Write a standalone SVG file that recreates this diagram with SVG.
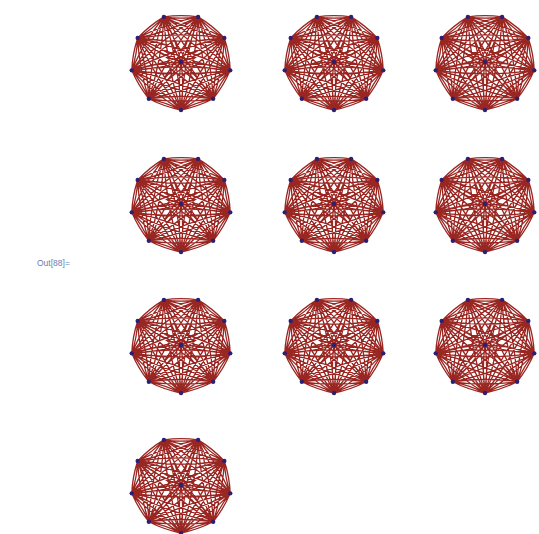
<svg xmlns="http://www.w3.org/2000/svg" xmlns:xlink="http://www.w3.org/1999/xlink" width="539" height="534" viewBox="0 0 539 534">
<style>
.e{fill:none;stroke:#9a2622;stroke-width:1.3;stroke-linecap:round}
.v{fill:#2e2070}
.lbl{font-family:"Liberation Sans",Arial,sans-serif;font-size:8.5px;fill:#6a7cb0}
</style>
<defs>
<g id="graph">
<path class="e" d="
M0,48Q16.86,44.64 32.14,36.77M0,48Q15.28,40.14 32.14,36.77
M0,48Q27.40,31.62 49.24,8.34M0,48Q21.84,24.72 49.24,8.34
M0,48Q26.69,15.03 43.3,-24M0,48Q16.61,8.97 43.3,-24
M0,48Q15.07,2.64 17.1,-45.11M0,48Q2.03,0.25 17.1,-45.11
M0,48Q-2.03,0.25 -17.1,-45.11M0,48Q-15.07,2.64 -17.1,-45.11
M0,48Q-16.61,8.97 -43.3,-24M0,48Q-26.69,15.03 -43.3,-24
M0,48Q-21.84,24.72 -49.24,8.34M0,48Q-27.40,31.62 -49.24,8.34
M0,48Q-15.28,40.14 -32.14,36.77M0,48Q-16.86,44.64 -32.14,36.77
M0,48Q3.36,24 0,0M0,48Q-3.36,24 0,0
M32.14,36.77Q42.68,23.75 49.24,8.34M32.14,36.77Q38.70,21.36 49.24,8.34
M32.14,36.77Q41.97,7.17 43.3,-24M32.14,36.77Q33.47,5.60 43.3,-24
M32.14,36.77Q30.35,-5.22 17.1,-45.11M32.14,36.77Q18.89,-3.12 17.1,-45.11
M32.14,36.77Q13.25,-7.62 -17.1,-45.11M32.14,36.77Q1.79,-0.72 -17.1,-45.11
M32.14,36.77Q-1.33,1.10 -43.3,-24M32.14,36.77Q-9.83,11.67 -43.3,-24
M32.14,36.77Q-6.56,16.86 -49.24,8.34M32.14,36.77Q-10.54,28.25 -49.24,8.34
M32.14,36.77Q0,32.27 -32.14,36.77M32.14,36.77Q0,41.27 -32.14,36.77
M32.14,36.77Q18.64,16.14 0,0M32.14,36.77Q13.50,20.64 0,0
M49.24,8.34Q48.53,-8.25 43.3,-24M49.24,8.34Q44.01,-7.41 43.3,-24
M49.24,8.34Q36.91,-20.64 17.1,-45.11M49.24,8.34Q29.43,-16.14 17.1,-45.11
M49.24,8.34Q19.81,-23.03 -17.1,-45.11M49.24,8.34Q12.33,-13.74 -17.1,-45.11
M49.24,8.34Q5.23,-14.31 -43.3,-24M49.24,8.34Q0.71,-1.35 -43.3,-24
M49.24,8.34Q0,1.45 -49.24,8.34M49.24,8.34Q0,15.23 -49.24,8.34
M49.24,8.34Q6.56,16.86 -32.14,36.77M49.24,8.34Q10.54,28.25 -32.14,36.77
M49.24,8.34Q25.20,0.72 0,0M49.24,8.34Q24.04,7.62 0,0
M43.3,-24Q31.68,-36.39 17.1,-45.11M43.3,-24Q28.72,-32.72 17.1,-45.11
M43.3,-24Q14.58,-38.78 -17.1,-45.11M43.3,-24Q11.62,-30.33 -17.1,-45.11
M43.3,-24Q0,-30.06 -43.3,-24M43.3,-24Q0,-17.94 -43.3,-24
M43.3,-24Q-5.23,-14.31 -49.24,8.34M43.3,-24Q-0.71,-1.35 -49.24,8.34
M43.3,-24Q1.33,1.10 -32.14,36.77M43.3,-24Q9.83,11.67 -32.14,36.77
M43.3,-24Q19.97,-15.03 0,0M43.3,-24Q23.33,-8.97 0,0
M17.1,-45.11Q0,-47.50 -17.1,-45.11M17.1,-45.11Q0,-42.72 -17.1,-45.11
M17.1,-45.11Q-14.58,-38.78 -43.3,-24M17.1,-45.11Q-11.62,-30.33 -43.3,-24
M17.1,-45.11Q-19.81,-23.03 -49.24,8.34M17.1,-45.11Q-12.33,-13.74 -49.24,8.34
M17.1,-45.11Q-13.25,-7.62 -32.14,36.77M17.1,-45.11Q-1.79,-0.72 -32.14,36.77
M17.1,-45.11Q5.39,-23.75 0,0M17.1,-45.11Q11.71,-21.36 0,0
M-17.1,-45.11Q-31.68,-36.39 -43.3,-24M-17.1,-45.11Q-28.72,-32.72 -43.3,-24
M-17.1,-45.11Q-36.91,-20.64 -49.24,8.34M-17.1,-45.11Q-29.43,-16.14 -49.24,8.34
M-17.1,-45.11Q-30.35,-5.22 -32.14,36.77M-17.1,-45.11Q-18.89,-3.12 -32.14,36.77
M-17.1,-45.11Q-11.71,-21.36 0,0M-17.1,-45.11Q-5.39,-23.75 0,0
M-43.3,-24Q-48.53,-8.25 -49.24,8.34M-43.3,-24Q-44.01,-7.41 -49.24,8.34
M-43.3,-24Q-41.97,7.17 -32.14,36.77M-43.3,-24Q-33.47,5.60 -32.14,36.77
M-43.3,-24Q-23.33,-8.97 0,0M-43.3,-24Q-19.97,-15.03 0,0
M-49.24,8.34Q-42.68,23.75 -32.14,36.77M-49.24,8.34Q-38.70,21.36 -32.14,36.77
M-49.24,8.34Q-24.04,7.62 0,0M-49.24,8.34Q-25.20,0.72 0,0
M-32.14,36.77Q-13.50,20.64 0,0M-32.14,36.77Q-18.64,16.14 0,0"/>
<g class="v">
<circle cx="0" cy="48" r="2.2"/>
<circle cx="32.14" cy="36.77" r="2.2"/>
<circle cx="49.24" cy="8.34" r="2.2"/>
<circle cx="43.3" cy="-24" r="2.2"/>
<circle cx="17.1" cy="-45.11" r="2.2"/>
<circle cx="-17.1" cy="-45.11" r="2.2"/>
<circle cx="-43.3" cy="-24" r="2.2"/>
<circle cx="-49.24" cy="8.34" r="2.2"/>
<circle cx="-32.14" cy="36.77" r="2.2"/>
<circle cx="0" cy="0" r="2.2"/>
</g>
</g>
</defs>
<rect width="539" height="534" fill="#ffffff"/>
<text class="lbl" x="37" y="266">Out[88]=</text>
<g id="graph1"><use xlink:href="#graph" href="#graph" transform="translate(181,62)"/></g>
<g id="graph2"><use xlink:href="#graph" href="#graph" transform="translate(334,62)"/></g>
<g id="graph3"><use xlink:href="#graph" href="#graph" transform="translate(485,62)"/></g>
<g id="graph4"><use xlink:href="#graph" href="#graph" transform="translate(181,204)"/></g>
<g id="graph5"><use xlink:href="#graph" href="#graph" transform="translate(334,204)"/></g>
<g id="graph6"><use xlink:href="#graph" href="#graph" transform="translate(485,204)"/></g>
<g id="graph7"><use xlink:href="#graph" href="#graph" transform="translate(181,345)"/></g>
<g id="graph8"><use xlink:href="#graph" href="#graph" transform="translate(334,345)"/></g>
<g id="graph9"><use xlink:href="#graph" href="#graph" transform="translate(485,345)"/></g>
<g id="graph10"><use xlink:href="#graph" href="#graph" transform="translate(181,485)"/></g>
</svg>
